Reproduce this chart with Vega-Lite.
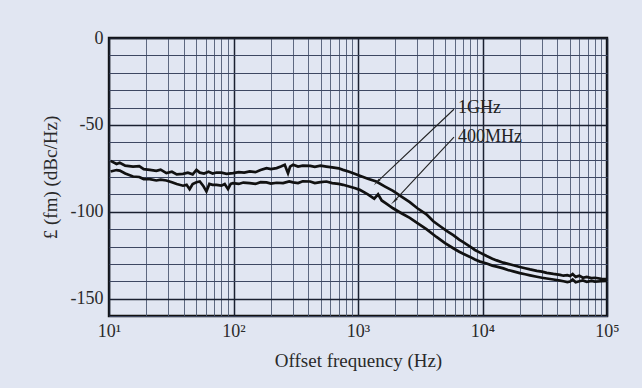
{
  "$schema": "https://vega.github.io/schema/vega-lite/v6.json",
  "width": 498,
  "height": 278,
  "autosize": "none",
  "padding": {"left": 109, "top": 38, "right": 35, "bottom": 72},
  "background": "#e1e6f2",
  "config": {
    "view": {"stroke": "#111111", "strokeWidth": 2.4, "fill": "#e1e6f2"},
    "font": "Liberation Serif"
  },
  "datasets": {
    "curves": [
      {"s": "1GHz", "f": 10.3, "db": -70.7},
      {"s": "1GHz", "f": 11.5, "db": -72.5},
      {"s": "1GHz", "f": 12.2, "db": -71.8},
      {"s": "1GHz", "f": 13.5, "db": -73.5},
      {"s": "1GHz", "f": 15.6, "db": -74},
      {"s": "1GHz", "f": 17.5, "db": -73.8},
      {"s": "1GHz", "f": 19, "db": -75.5},
      {"s": "1GHz", "f": 21.3, "db": -75.9},
      {"s": "1GHz", "f": 24, "db": -76.5},
      {"s": "1GHz", "f": 26, "db": -75.8},
      {"s": "1GHz", "f": 28.9, "db": -77.8},
      {"s": "1GHz", "f": 32, "db": -77},
      {"s": "1GHz", "f": 35, "db": -78.5},
      {"s": "1GHz", "f": 39.3, "db": -78.2},
      {"s": "1GHz", "f": 43, "db": -77.5},
      {"s": "1GHz", "f": 47, "db": -78.5},
      {"s": "1GHz", "f": 50.4, "db": -75.9},
      {"s": "1GHz", "f": 53.6, "db": -77.5},
      {"s": "1GHz", "f": 58, "db": -78},
      {"s": "1GHz", "f": 63, "db": -77},
      {"s": "1GHz", "f": 68, "db": -78},
      {"s": "1GHz", "f": 72.9, "db": -77.4},
      {"s": "1GHz", "f": 80, "db": -77.5},
      {"s": "1GHz", "f": 88, "db": -78.2},
      {"s": "1GHz", "f": 99.2, "db": -77.8},
      {"s": "1GHz", "f": 110, "db": -77.2},
      {"s": "1GHz", "f": 122, "db": -77.5},
      {"s": "1GHz", "f": 135, "db": -76.8},
      {"s": "1GHz", "f": 150, "db": -77.2},
      {"s": "1GHz", "f": 165, "db": -76},
      {"s": "1GHz", "f": 184, "db": -74.9},
      {"s": "1GHz", "f": 200, "db": -75.5},
      {"s": "1GHz", "f": 222, "db": -74.9},
      {"s": "1GHz", "f": 240, "db": -74},
      {"s": "1GHz", "f": 258, "db": -73},
      {"s": "1GHz", "f": 274, "db": -77.8},
      {"s": "1GHz", "f": 285, "db": -74},
      {"s": "1GHz", "f": 301, "db": -73},
      {"s": "1GHz", "f": 330, "db": -74},
      {"s": "1GHz", "f": 360, "db": -73.5},
      {"s": "1GHz", "f": 413, "db": -73.6},
      {"s": "1GHz", "f": 450, "db": -74.2},
      {"s": "1GHz", "f": 500, "db": -73.5},
      {"s": "1GHz", "f": 558, "db": -74},
      {"s": "1GHz", "f": 620, "db": -74.5},
      {"s": "1GHz", "f": 700, "db": -75},
      {"s": "1GHz", "f": 758, "db": -75.9},
      {"s": "1GHz", "f": 850, "db": -77},
      {"s": "1GHz", "f": 950, "db": -78.3},
      {"s": "1GHz", "f": 1033, "db": -79.3},
      {"s": "1GHz", "f": 1200, "db": -81},
      {"s": "1GHz", "f": 1402, "db": -82.6},
      {"s": "1GHz", "f": 1650, "db": -85.5},
      {"s": "1GHz", "f": 1911, "db": -88},
      {"s": "1GHz", "f": 2250, "db": -91.5},
      {"s": "1GHz", "f": 2605, "db": -94.5},
      {"s": "1GHz", "f": 3000, "db": -98},
      {"s": "1GHz", "f": 3543, "db": -101.5},
      {"s": "1GHz", "f": 4027, "db": -105.5},
      {"s": "1GHz", "f": 4600, "db": -108.5},
      {"s": "1GHz", "f": 5150, "db": -111},
      {"s": "1GHz", "f": 5823, "db": -113.5},
      {"s": "1GHz", "f": 6500, "db": -116},
      {"s": "1GHz", "f": 7000, "db": -117.5},
      {"s": "1GHz", "f": 7943, "db": -120},
      {"s": "1GHz", "f": 8700, "db": -122},
      {"s": "1GHz", "f": 9550, "db": -123.5},
      {"s": "1GHz", "f": 10800, "db": -125.5},
      {"s": "1GHz", "f": 12000, "db": -127},
      {"s": "1GHz", "f": 13000, "db": -128},
      {"s": "1GHz", "f": 14700, "db": -129.3},
      {"s": "1GHz", "f": 16000, "db": -130},
      {"s": "1GHz", "f": 17700, "db": -130.8},
      {"s": "1GHz", "f": 19950, "db": -131.8},
      {"s": "1GHz", "f": 22000, "db": -132.5},
      {"s": "1GHz", "f": 24100, "db": -133.2},
      {"s": "1GHz", "f": 27300, "db": -134},
      {"s": "1GHz", "f": 30000, "db": -134.5},
      {"s": "1GHz", "f": 32800, "db": -135.2},
      {"s": "1GHz", "f": 37100, "db": -135.8},
      {"s": "1GHz", "f": 42000, "db": -136.3},
      {"s": "1GHz", "f": 44700, "db": -136.8},
      {"s": "1GHz", "f": 48000, "db": -136.5},
      {"s": "1GHz", "f": 50500, "db": -137},
      {"s": "1GHz", "f": 53000, "db": -135.8},
      {"s": "1GHz", "f": 56000, "db": -137.5},
      {"s": "1GHz", "f": 60000, "db": -136.8},
      {"s": "1GHz", "f": 64000, "db": -138},
      {"s": "1GHz", "f": 68700, "db": -137.5},
      {"s": "1GHz", "f": 75000, "db": -138.2},
      {"s": "1GHz", "f": 80000, "db": -138},
      {"s": "1GHz", "f": 90000, "db": -138.6},
      {"s": "1GHz", "f": 100000, "db": -138.7},
      {"s": "400MHz", "f": 10.3, "db": -76.8},
      {"s": "400MHz", "f": 11.5, "db": -76},
      {"s": "400MHz", "f": 12.2, "db": -76.3},
      {"s": "400MHz", "f": 13.5, "db": -78},
      {"s": "400MHz", "f": 15.6, "db": -79.7},
      {"s": "400MHz", "f": 17.5, "db": -80},
      {"s": "400MHz", "f": 19, "db": -81.2},
      {"s": "400MHz", "f": 21.3, "db": -81.2},
      {"s": "400MHz", "f": 24, "db": -82},
      {"s": "400MHz", "f": 26, "db": -81.5},
      {"s": "400MHz", "f": 28.9, "db": -82},
      {"s": "400MHz", "f": 32, "db": -83},
      {"s": "400MHz", "f": 35, "db": -84},
      {"s": "400MHz", "f": 39.3, "db": -85},
      {"s": "400MHz", "f": 42, "db": -84.5},
      {"s": "400MHz", "f": 44.4, "db": -87},
      {"s": "400MHz", "f": 47, "db": -84},
      {"s": "400MHz", "f": 50.4, "db": -83},
      {"s": "400MHz", "f": 53.6, "db": -82.6},
      {"s": "400MHz", "f": 57, "db": -85},
      {"s": "400MHz", "f": 60.6, "db": -88.3},
      {"s": "400MHz", "f": 64, "db": -84},
      {"s": "400MHz", "f": 68, "db": -84.5},
      {"s": "400MHz", "f": 72.9, "db": -84.5},
      {"s": "400MHz", "f": 80, "db": -85},
      {"s": "400MHz", "f": 85, "db": -84},
      {"s": "400MHz", "f": 90.4, "db": -87},
      {"s": "400MHz", "f": 95, "db": -84},
      {"s": "400MHz", "f": 99.2, "db": -83.5},
      {"s": "400MHz", "f": 110, "db": -84},
      {"s": "400MHz", "f": 120, "db": -83.2},
      {"s": "400MHz", "f": 135, "db": -83.5},
      {"s": "400MHz", "f": 150, "db": -84},
      {"s": "400MHz", "f": 165, "db": -83},
      {"s": "400MHz", "f": 184, "db": -83.1},
      {"s": "400MHz", "f": 200, "db": -83.8},
      {"s": "400MHz", "f": 222, "db": -83.3},
      {"s": "400MHz", "f": 250, "db": -83.5},
      {"s": "400MHz", "f": 280, "db": -82.5},
      {"s": "400MHz", "f": 301, "db": -83.1},
      {"s": "400MHz", "f": 330, "db": -83.5},
      {"s": "400MHz", "f": 360, "db": -82.5},
      {"s": "400MHz", "f": 413, "db": -82.6},
      {"s": "400MHz", "f": 450, "db": -83.5},
      {"s": "400MHz", "f": 500, "db": -83},
      {"s": "400MHz", "f": 558, "db": -82.6},
      {"s": "400MHz", "f": 620, "db": -83.5},
      {"s": "400MHz", "f": 700, "db": -84},
      {"s": "400MHz", "f": 758, "db": -84.5},
      {"s": "400MHz", "f": 850, "db": -85.5},
      {"s": "400MHz", "f": 950, "db": -86.5},
      {"s": "400MHz", "f": 1033, "db": -87.4},
      {"s": "400MHz", "f": 1200, "db": -90},
      {"s": "400MHz", "f": 1350, "db": -92.5},
      {"s": "400MHz", "f": 1450, "db": -90},
      {"s": "400MHz", "f": 1550, "db": -93.5},
      {"s": "400MHz", "f": 1700, "db": -95.5},
      {"s": "400MHz", "f": 1911, "db": -98},
      {"s": "400MHz", "f": 2250, "db": -101},
      {"s": "400MHz", "f": 2605, "db": -103.5},
      {"s": "400MHz", "f": 3150, "db": -107.5},
      {"s": "400MHz", "f": 3543, "db": -110},
      {"s": "400MHz", "f": 4270, "db": -114.5},
      {"s": "400MHz", "f": 5000, "db": -118},
      {"s": "400MHz", "f": 5823, "db": -121},
      {"s": "400MHz", "f": 6500, "db": -123},
      {"s": "400MHz", "f": 7000, "db": -124.2},
      {"s": "400MHz", "f": 7943, "db": -126},
      {"s": "400MHz", "f": 8700, "db": -127.5},
      {"s": "400MHz", "f": 9550, "db": -128.7},
      {"s": "400MHz", "f": 10800, "db": -129.8},
      {"s": "400MHz", "f": 12000, "db": -131},
      {"s": "400MHz", "f": 13000, "db": -131.6},
      {"s": "400MHz", "f": 14700, "db": -132.6},
      {"s": "400MHz", "f": 16000, "db": -133.5},
      {"s": "400MHz", "f": 17700, "db": -134.3},
      {"s": "400MHz", "f": 19950, "db": -135.3},
      {"s": "400MHz", "f": 22000, "db": -136},
      {"s": "400MHz", "f": 24100, "db": -136.6},
      {"s": "400MHz", "f": 27300, "db": -137.4},
      {"s": "400MHz", "f": 30000, "db": -138},
      {"s": "400MHz", "f": 32800, "db": -138.4},
      {"s": "400MHz", "f": 37100, "db": -139},
      {"s": "400MHz", "f": 42000, "db": -139.6},
      {"s": "400MHz", "f": 44700, "db": -140},
      {"s": "400MHz", "f": 48000, "db": -140.5},
      {"s": "400MHz", "f": 50500, "db": -140.2},
      {"s": "400MHz", "f": 53000, "db": -139},
      {"s": "400MHz", "f": 56000, "db": -140.6},
      {"s": "400MHz", "f": 60000, "db": -140},
      {"s": "400MHz", "f": 64000, "db": -139.5},
      {"s": "400MHz", "f": 68700, "db": -140.3},
      {"s": "400MHz", "f": 75000, "db": -139.8},
      {"s": "400MHz", "f": 80000, "db": -140.2},
      {"s": "400MHz", "f": 90000, "db": -140},
      {"s": "400MHz", "f": 100000, "db": -139.8}
    ],
    "arrows": [
      {"s": "1GHz", "f": 5900, "db": -41, "f2": 1440, "db2": -82.5},
      {"s": "400MHz", "f": 5900, "db": -57, "f2": 1980, "db2": -93.5}
    ],
    "heads": [
      {"s": "1GHz", "f": 1440, "db": -82.5},
      {"s": "400MHz", "f": 1980, "db": -93.5}
    ],
    "labels": [
      {"t": "1GHz", "f": 6350, "db": -40.5},
      {"t": "400MHz", "f": 6350, "db": -56.7}
    ]
  },
  "encoding": {
    "x": {
      "field": "f",
      "type": "quantitative",
      "scale": {"type": "log", "domain": [10, 100000]},
      "axis": {
        "title": "Offset frequency (Hz)",
        "values": [10, 20, 30, 40, 50, 60, 70, 80, 90, 100, 200, 300, 400, 500, 600, 700, 800, 900, 1000, 2000, 3000, 4000, 5000, 6000, 7000, 8000, 9000, 10000, 20000, 30000, 40000, 50000, 60000, 70000, 80000, 90000, 100000],
        "labelExpr": "datum.value == 10 ? '10¹' : datum.value == 100 ? '10²' : datum.value == 1000 ? '10³' : datum.value == 10000 ? '10⁴' : datum.value == 100000 ? '10⁵' : ''",
        "grid": true,
        "gridColor": {"condition": {"test": "indexof([10,100,1000,10000,100000], datum.value) >= 0", "value": "#1a2030"}, "value": "#4e5973"},
        "gridWidth": {"condition": {"test": "indexof([10,100,1000,10000,100000], datum.value) >= 0", "value": 1.5}, "value": 0.9},
        "ticks": false,
        "domain": false,
        "labelOverlap": false,
        "labelFlush": false,
        "labelBound": false,
        "labelFont": "Liberation Serif",
        "labelFontSize": 18,
        "labelColor": "#2a2a2a",
        "labelPadding": 6,
        "titleFont": "Liberation Serif",
        "titleFontSize": 19,
        "titleFontWeight": "normal",
        "titleColor": "#2a2a2a",
        "titlePadding": 11
      }
    },
    "y": {
      "field": "db",
      "type": "quantitative",
      "scale": {"domain": [-160, 0], "nice": false, "zero": false},
      "axis": {
        "title": "£ (fm)  (dBc/Hz)",
        "values": [-160, -150, -140, -130, -120, -110, -100, -90, -80, -70, -60, -50, -40, -30, -20, -10, 0],
        "labelExpr": "datum.value % 50 == 0 ? '' + datum.value : ''",
        "grid": true,
        "gridColor": {"condition": {"test": "datum.value % 50 == 0", "value": "#1a2030"}, "value": "#3d4762"},
        "gridWidth": {"condition": {"test": "datum.value % 50 == 0", "value": 1.5}, "value": 1.0},
        "ticks": false,
        "domain": false,
        "labelOverlap": false,
        "labelFlush": false,
        "labelBound": false,
        "labelFont": "Liberation Serif",
        "labelFontSize": 18,
        "labelColor": "#2a2a2a",
        "labelPadding": 6,
        "titleFont": "Liberation Serif",
        "titleFontSize": 19,
        "titleFontWeight": "normal",
        "titleColor": "#2a2a2a",
        "titlePadding": 10
      }
    }
  },
  "layer": [
    {
      "data": {"name": "curves"},
      "mark": {"type": "line", "strokeWidth": 2.7, "clip": true},
      "encoding": {
        "color": {"field": "s", "type": "nominal", "scale": {"range": ["#111111", "#111111"]}, "legend": null}
      }
    },
    {
      "data": {"name": "arrows"},
      "mark": {"type": "rule", "strokeWidth": 1.1, "color": "#222222"},
      "encoding": {
        "x2": {"field": "f2"},
        "y2": {"field": "db2"}
      }
    },
    {
      "data": {"name": "heads"},
      "mark": {"type": "point", "shape": "wedge", "filled": true, "size": 90, "angle": 226, "color": "#222222", "opacity": 1}
    },
    {
      "data": {"name": "labels"},
      "mark": {"type": "text", "align": "left", "baseline": "middle", "fontSize": 18, "font": "Liberation Serif", "color": "#222222"},
      "encoding": {
        "text": {"field": "t"}
      }
    }
  ]
}
